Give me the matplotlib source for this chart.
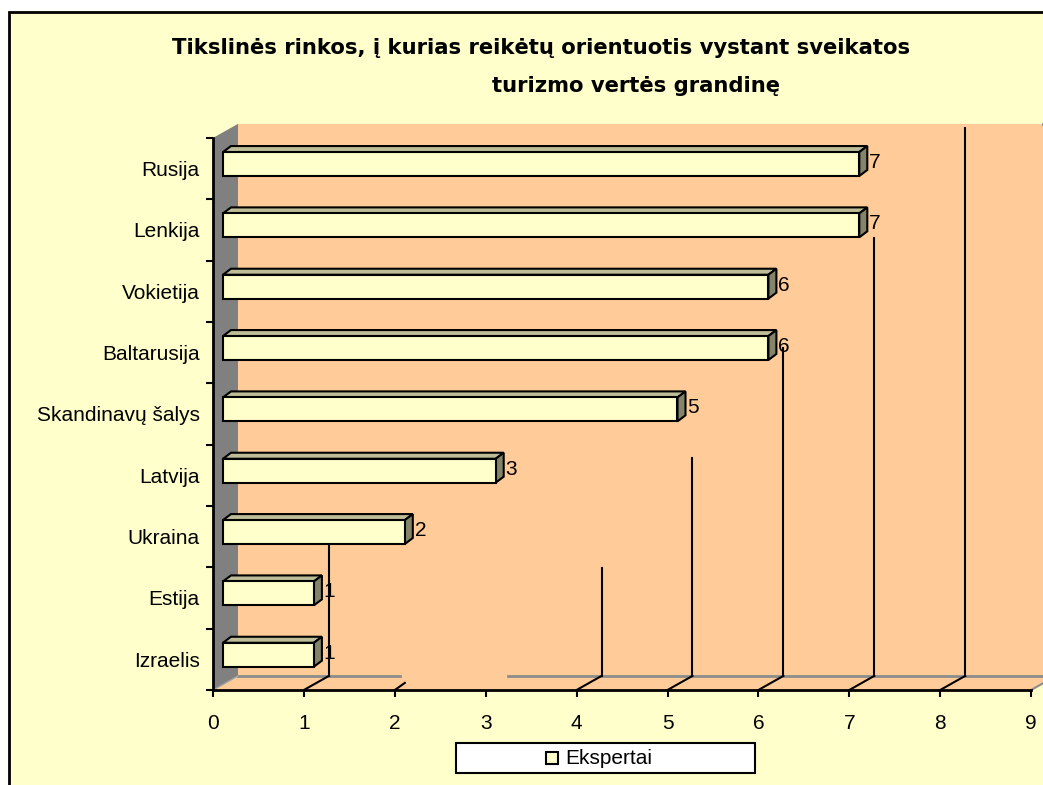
import matplotlib
matplotlib.use("Agg")
import matplotlib.pyplot as plt
from matplotlib.patches import Polygon, Rectangle
import numpy as np

plt.rcParams['font.family'] = ['Liberation Sans', 'DejaVu Sans']

# data
countries = ['Rusija', 'Lenkija', 'Vokietija', 'Baltarusija', 'Skandinavų šalys',
             'Latvija', 'Ukraina', 'Estija', 'Izraelis']
votes = [7, 7, 6, 6, 5, 3, 2, 1, 1]
series_name = 'Ekspertai'
title_1 = 'Tikslinės rinkos, į kurias reikėtų orientuotis vystant sveikatos'
title_2 = 'turizmo vertės grandinę'

# visible part of the back-wall gridlines (top end, in category units)
grid_tops = {1: 6.14, 4: 6.51, 5: 4.72, 6: 2.92, 7: 1.13, 8: -0.66}

W, H = 1043, 785
BG = '#FFFFCC'
WALL = '#FFCC99'
BAR_FRONT = '#FFFFCC'
BAR_TOP = '#BDBD97'
BAR_SIDE = '#84846A'
FS = 15

# 3D offsets (value units, category units)
DX, DY = 0.275, -0.23
X0 = 0.11
BDX, BDY = 0.088, -0.098
F_TOP, F_BOT = -0.27, 0.12

fig = plt.figure(figsize=(W / 100, H / 100), dpi=100, facecolor='white')


def px(x, y):
    return x / W, 1 - y / H


# chart area with border
fig.patches.append(Rectangle(px(9, 900), 1.2, (900 - 12) / H, transform=fig.transFigure,
                             facecolor=BG, edgecolor='black', linewidth=2, zorder=-5))

ax = fig.add_axes([213 / W, (H - 690) / H, (W - 213) / W, (690 - 122) / H])
ax.set_facecolor('none')
xmax = (W - 213) / 90.9
ax.set_xlim(0, xmax)
ax.set_ylim(8.5, -0.5 + DY - 0.03)

# back wall, floor and left wall
ax.add_patch(Rectangle((DX, -0.5 + DY), xmax, 9, facecolor=WALL, edgecolor='none', zorder=0))
ax.add_patch(Polygon([(0, 8.5), (9, 8.5), (9 + DX, 8.5 + DY), (DX, 8.5 + DY)],
                     closed=True, facecolor=WALL, edgecolor='none', zorder=0))
ax.add_patch(Polygon([(0, -0.5), (DX, -0.5 + DY), (DX, 8.5 + DY), (0, 8.5)],
                     closed=True, facecolor='#808080', edgecolor='none', zorder=1))
ax.plot([9.25 + DX, xmax], [-0.5 + DY, -0.5 + DY], color='#8C8C8C', lw=2, zorder=1, clip_on=False)

# floor edges
ax.plot([DX, 2.06], [8.5 + DY] * 2, color='#8C8C8C', lw=2, zorder=1)
ax.plot([3.25, 9 + DX], [8.5 + DY] * 2, color='#8C8C8C', lw=2, zorder=1)
ax.plot([9, 9 + DX], [8.5, 8.5 + DY], color='#8C8C8C', lw=1.5, zorder=1, clip_on=False)
ax.plot([0, DX], [8.5, 8.5 + DY], color='#A0A0A0', lw=1, zorder=1)
for k in [1, 4, 5, 6, 7, 8]:
    ax.plot([k, k + DX], [8.5, 8.5 + DY], color='black', lw=1.5, zorder=2)
ax.plot([2, 2 + DX * 0.4], [8.5, 8.5 + DY * 0.5], color='black', lw=1.5, zorder=2)

# gridlines on the back wall
for k, top in grid_tops.items():
    ax.plot([k + DX, k + DX], [8.5 + DY, top], color='black', lw=1.5, zorder=2)

# 3D bars
for i, v in enumerate(votes):
    yt, yb = i + F_TOP, i + F_BOT
    x1 = X0 + v
    top = [(X0, yt), (X0 + BDX, yt + BDY), (x1 + BDX, yt + BDY), (x1, yt)]
    side = [(x1, yt), (x1 + BDX, yt + BDY), (x1 + BDX, yb + BDY), (x1, yb)]
    ax.add_patch(Polygon(top, closed=True, facecolor=BAR_TOP, edgecolor='black', lw=1.5, zorder=4))
    ax.add_patch(Polygon(side, closed=True, facecolor=BAR_SIDE, edgecolor='black', lw=1.5, zorder=4))
    ax.add_patch(Rectangle((X0, yt), v, yb - yt, facecolor=BAR_FRONT, edgecolor='black',
                           lw=1.5, zorder=5))
    ax.text(x1 + BDX + 0.02, i - 0.1, str(v), ha='left', va='center', fontsize=FS, zorder=6)

# axes
for s in ['top', 'right']:
    ax.spines[s].set_visible(False)
ax.spines['left'].set_bounds(-0.5, 8.5)
ax.spines['bottom'].set_bounds(0, 9)
ax.spines['left'].set_linewidth(2)
ax.spines['bottom'].set_linewidth(2)
ax.spines['left'].set_zorder(3)

ax.set_xticks(range(10))
ax.tick_params(axis='x', length=5, width=1.5, pad=12, labelsize=FS)
ax.set_yticks(np.arange(-0.5, 9, 1))
ax.set_yticklabels([])
ax.tick_params(axis='y', which='major', length=5, width=1.5)
ax.set_yticks(range(len(countries)), minor=True)
ax.set_yticklabels(countries, minor=True)
ax.tick_params(axis='y', which='minor', length=0, pad=9.5, labelsize=FS)

# title
fig.text(*px(541, 54), title_1, ha='center', va='baseline', fontsize=15.2,
         fontweight='bold', family='DejaVu Sans')
fig.text(*px(636, 92), title_2, ha='center', va='baseline', fontsize=15.2,
         fontweight='bold', family='DejaVu Sans')

# legend
fig.patches.append(Rectangle(px(456, 773), 299 / W, 30 / H, transform=fig.transFigure,
                             facecolor='white', edgecolor='black', linewidth=1.5, zorder=5))
fig.patches.append(Rectangle(px(546, 764), 12 / W, 12 / H, transform=fig.transFigure,
                             facecolor=BAR_FRONT, edgecolor='black', linewidth=1.5, zorder=6))
fig.text(*px(565, 758), series_name, ha='left', va='center', fontsize=FS, zorder=7)

fig.savefig('out.png', dpi=100, facecolor=fig.get_facecolor())
